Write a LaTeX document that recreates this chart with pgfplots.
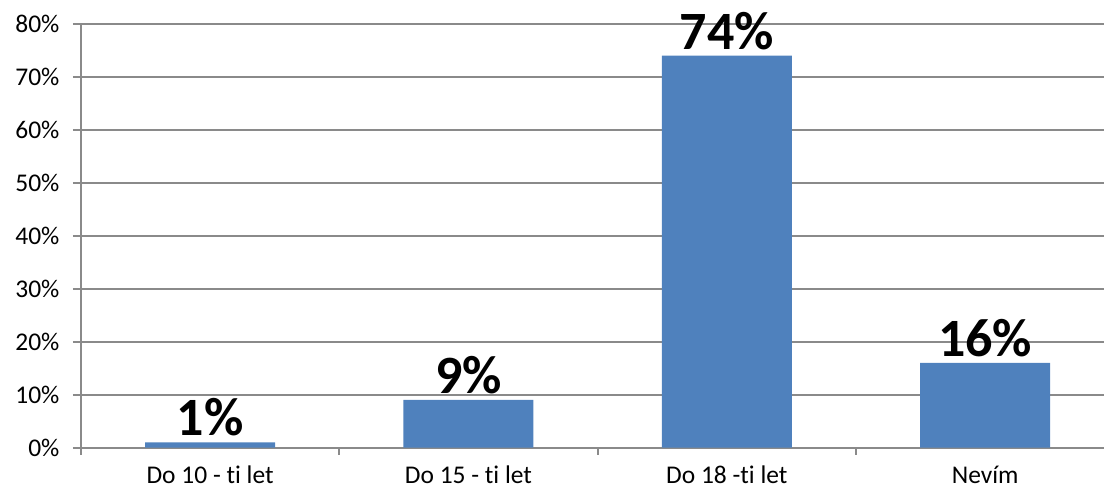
\documentclass[border=0pt]{standalone}
\usepackage{fontspec}
\setmainfont[Ligatures=NoCommon]{Carlito}
\usepackage{pgfplots}
\pgfplotsset{compat=1.18}
\definecolor{barblue}{HTML}{4F81BD}
\definecolor{gridgray}{HTML}{8A8A8A}
\begin{document}
\begin{tikzpicture}
\begin{axis}[
  name=main,
  scale only axis,
  width=1024pt, height=424pt,
  xmin=-0.5, xmax=3.46,
  ymin=0, ymax=80,
  ytick={0,10,...,80},
  yticklabel={\pgfmathprintnumber{\tick}\%},
  /pgf/number format/assume math mode=true,
  ymajorgrids,
  grid style={gridgray, line width=2pt},
  axis x line*=bottom, axis y line*=left,
  axis line style={gridgray, line width=2pt, -},
  major tick style={gridgray, line width=2pt},
  ytick align=outside, major tick length=8pt,
  xtick={0,1,2,3},
  xticklabels={Do 10 - ti let, Do 15 - ti let, Do 18 -ti let, Nevím},
  x tick style={draw=none},
  extra x ticks={-0.5,0.5,1.5,2.5},
  extra x tick labels={},
  extra x tick style={grid=none, tick align=outside, major tick length=7pt, x tick style={draw=gridgray}},
  ticklabel style={font=\fontsize{25.5}{30}\selectfont, text=black},
  yticklabel style={xshift=-10pt},
  xticklabel style={yshift=-7pt},
  ybar, bar width=0.503,
  nodes near coords={\pgfmathprintnumber{\pgfplotspointmeta}\%},
  nodes near coords style={font=\bfseries\fontsize{54}{60}\selectfont, text=black, anchor=south, inner sep=0pt, yshift=6pt},
]
\addplot[fill=barblue, draw=none] coordinates {(0,1) (1,9) (2,74) (3,16)};
\end{axis}
\path[use as bounding box] ([shift={(-81pt,-42pt)}]main.south west) rectangle ([shift={(0pt,24pt)}]main.north east);
\end{tikzpicture}
\end{document}
